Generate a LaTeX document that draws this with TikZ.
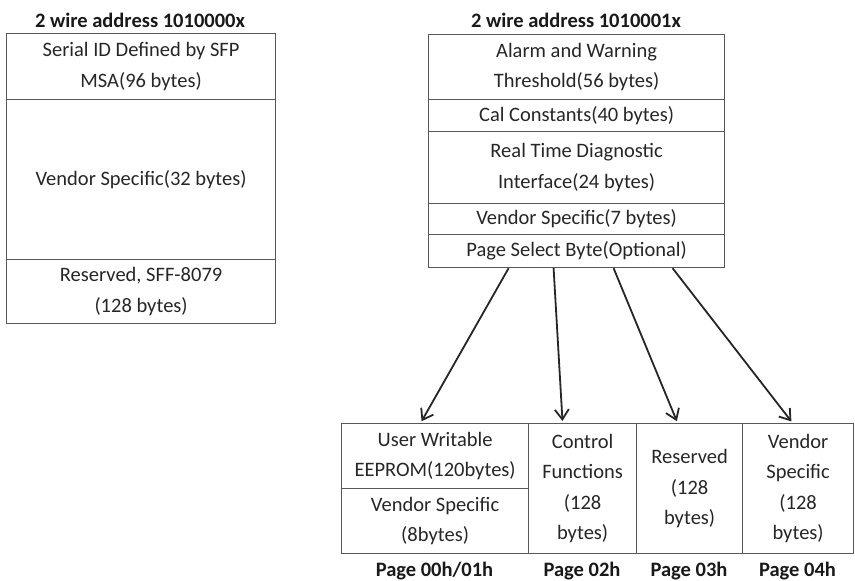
\documentclass[tikz,border=0pt]{standalone}
\usepackage{fontspec}
\setmainfont{Carlito}
\usetikzlibrary{arrows.meta}
\usetikzlibrary{positioning}

\tikzset{
  cell/.style={draw=black!65, line width=1.2pt, anchor=north west, align=center,
    text=black!85, inner sep=0pt, font=\fontsize{20.5}{30.5}\selectfont},
  head/.style={font=\fontsize{20.5}{24}\selectfont\bfseries, text=black!90},
  link/.style={-{Straight Barb[length=10pt,width=14pt]}, line width=1.8pt, black!85, shorten >=2pt}
}

\begin{document}
\begin{tikzpicture}[x=1pt,y=-1pt]
\useasboundingbox (0,0) rectangle (855,581);
% address 1010000x
\path (140,20) node[head] (headA) {2 wire address 1010000x};
\path (6,33) node[cell,minimum width=269pt,minimum height=66pt] (serial) {Serial ID Defined by SFP\\MSA(96 bytes)};
\path (6,99) node[cell,minimum width=269pt,minimum height=160pt] (vendA) {Vendor Specific(32 bytes)};
\path (6,259) node[cell,minimum width=269pt,minimum height=64pt] (resA) {Reserved, SFF-8079\\(128 bytes)};
% address 1010001x
\path (576,20) node[head] (headB) {2 wire address 1010001x};
\path (428,34) node[cell,minimum width=296pt,minimum height=65pt] (alarm) {Alarm and Warning\\Threshold(56 bytes)};
\path (428,99) node[cell,minimum width=296pt,minimum height=32pt] (cal) {Cal Constants(40 bytes)};
\path (428,131) node[cell,minimum width=296pt,minimum height=72pt] (diag) {Real Time Diagnostic\\Interface(24 bytes)};
\path (428,203) node[cell,minimum width=296pt,minimum height=31pt] (vendB) {Vendor Specific(7 bytes)};
\path (428,234) node[cell,minimum width=296pt,minimum height=33pt] (psb) {Page Select Byte(Optional)};
% pages
\path (341,423) node[cell,minimum width=187pt,minimum height=65pt] (user) {User Writable\\EEPROM(120bytes)};
\path (341,488) node[cell,minimum width=187pt,minimum height=65pt] (vend8) {Vendor Specific\\(8bytes)};
\path (528,423) node[cell,minimum width=108pt,minimum height=130pt] (ctrl) {Control\\Functions\\(128\\bytes)};
\path (636,423) node[cell,minimum width=106pt,minimum height=130pt] (res3) {Reserved\\(128\\bytes)};
\path (742,423) node[cell,minimum width=111pt,minimum height=130pt] (vend4) {Vendor\\Specific\\(128\\bytes)};
\path (434.5,571) node[head] (pg0) {Page 00h/01h};
\path (582,571) node[head] (pg2) {Page 02h};
\path (689,571) node[head] (pg3) {Page 03h};
\path (797.5,571) node[head] (pg4) {Page 04h};
% arrows
\draw[link] ([xshift=-68pt]psb.south) -- ([xshift=-14.5pt]user.north);
\draw[link] ([xshift=-23pt]psb.south) -- ([xshift=-20pt]ctrl.north);
\draw[link] ([xshift=37pt]psb.south) -- ([xshift=-12pt]res3.north);
\draw[link] ([xshift=96pt]psb.south) -- ([xshift=-5.5pt]vend4.north);
\end{tikzpicture}
\end{document}
